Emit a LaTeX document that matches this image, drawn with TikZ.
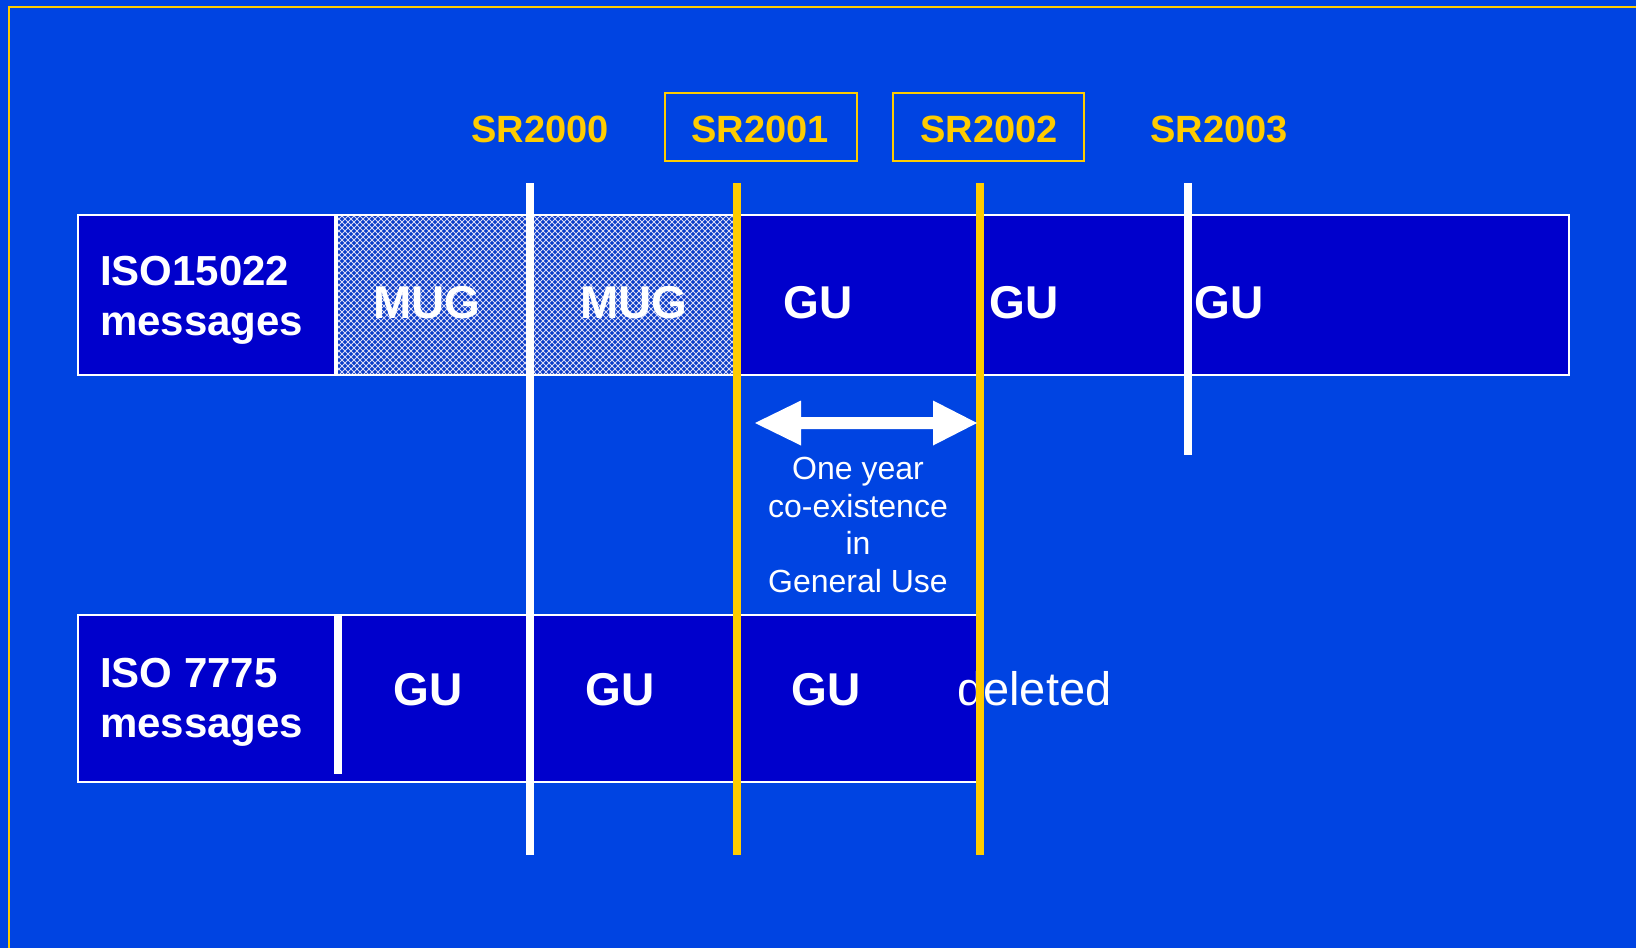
\documentclass[tikz,border=0pt]{standalone}
\usepackage{fontspec}
\setmainfont{Liberation Sans}
\usetikzlibrary{patterns}
\pgfdeclarepatternformonly{mesh}{\pgfqpoint{-1pt}{-1pt}}{\pgfqpoint{7pt}{7pt}}{\pgfqpoint{6pt}{6pt}}{
  \pgfsetlinewidth{0.8pt}
  \pgfpathmoveto{\pgfqpoint{0pt}{0pt}}\pgfpathlineto{\pgfqpoint{6pt}{6pt}}
  \pgfpathmoveto{\pgfqpoint{0pt}{6pt}}\pgfpathlineto{\pgfqpoint{6pt}{0pt}}
  \pgfusepath{stroke}}
\definecolor{bg}{RGB}{0,68,226}
\definecolor{cell}{RGB}{0,0,204}
\definecolor{gold}{RGB}{255,204,0}
\definecolor{mugbase}{RGB}{10,60,200}
\tikzset{
  boxline/.style={draw=white, line width=2.5pt, fill=cell},
  vline/.style={line width=8pt},
  big/.style={font=\bfseries\fontsize{46}{55}\selectfont, text=white, inner sep=0pt},
  rowlabel/.style={font=\bfseries\fontsize{42}{50}\selectfont, text=white, inner sep=0pt, align=left},
  srlabel/.style={font=\bfseries\fontsize{38}{45}\selectfont, text=gold, inner sep=0pt},
  srbox/.style={draw=gold, line width=2pt},
  note/.style={font=\fontsize{32}{37.7}\selectfont, text=white, inner sep=0pt, align=center},
}
\begin{document}
\begin{tikzpicture}[x=1pt,y=-1pt]
\useasboundingbox (0,0) rectangle (1636,948);
\fill[bg] (0,0) rectangle (1636,948);
\draw[gold, line width=2pt] (1636,7) -- (9,7) -- (9,948);

% SR headers
\draw[srbox] (665,93) rectangle (857,161);
\draw[srbox] (893,93) rectangle (1084,161);
\node[srlabel, anchor=base] (sr0) at (540,142) {SR2000};
\node[srlabel, anchor=base] (sr1) at (760,142) {SR2001};
\node[srlabel, anchor=base] (sr2) at (989,142) {SR2002};
\node[srlabel, anchor=base] (sr3) at (1219,142) {SR2003};

% top row
\draw[boxline] (78,215) rectangle (1569,375);
\fill[mugbase] (337,216) rectangle (733,374);
\fill[pattern=mesh, pattern color=white!85!cell] (337,216) rectangle (733,374);
\draw[white, line width=2.5pt] (78,215) -- (1569,215) (78,375) -- (1569,375);
\draw[white, line width=3.5pt] (336,215) -- (336,375);

% bottom row
\draw[boxline] (78,615) rectangle (978,782);
\draw[white, line width=8pt] (338,615) -- (338,774);

% text in rows
\node[rowlabel, anchor=north west] (lab1) at (100,256) {ISO15022\\messages};
\node[rowlabel, anchor=north west] (lab2) at (100,658) {ISO 7775\\messages};
\node[big, anchor=base] (mug1) at (427,318) {MUG};
\node[big, anchor=base] (mug2) at (634,318) {MUG};
\node[big, anchor=base] (gu1) at (818,318) {GU};
\node[big, anchor=base] (gu2) at (1024,318) {GU};
\node[big, anchor=base] (gu3) at (1229,318) {GU};
\node[big, anchor=base] (gu4) at (428,705) {GU};
\node[big, anchor=base] (gu5) at (620,705) {GU};
\node[big, anchor=base] (gu6) at (826,705) {GU};
\node[font=\fontsize{47}{56}\selectfont, text=white, inner sep=0pt, anchor=base west] (del) at (957,705) {deleted};

% vertical release lines
\coordinate (t0) at (529.5,183); \coordinate (b0) at (529.5,855);
\coordinate (t1) at (737,183);   \coordinate (b1) at (737,855);
\coordinate (t2) at (980,183);   \coordinate (b2) at (980,855);
\coordinate (t3) at (1188,183);  \coordinate (b3) at (1188,455);
\draw[vline, white] (t0) -- (b0);
\draw[vline, gold] (t1) -- (b1);
\draw[vline, gold] (t2) -- (b2);
\draw[vline, white] (t3) -- (b3);

% double arrow
\coordinate (al) at (755,423);
\coordinate (ar) at (977,423);
\fill[white] (al) -- (801,400.5) -- (801,417) -- (933,417) -- (933,400.5) -- (ar)
  -- (933,445.5) -- (933,429) -- (801,429) -- (801,445.5) -- cycle;
\node[note, anchor=north] (coex) at (858,457) {One year\\co-existence\\in\\General Use};
\end{tikzpicture}
\end{document}
